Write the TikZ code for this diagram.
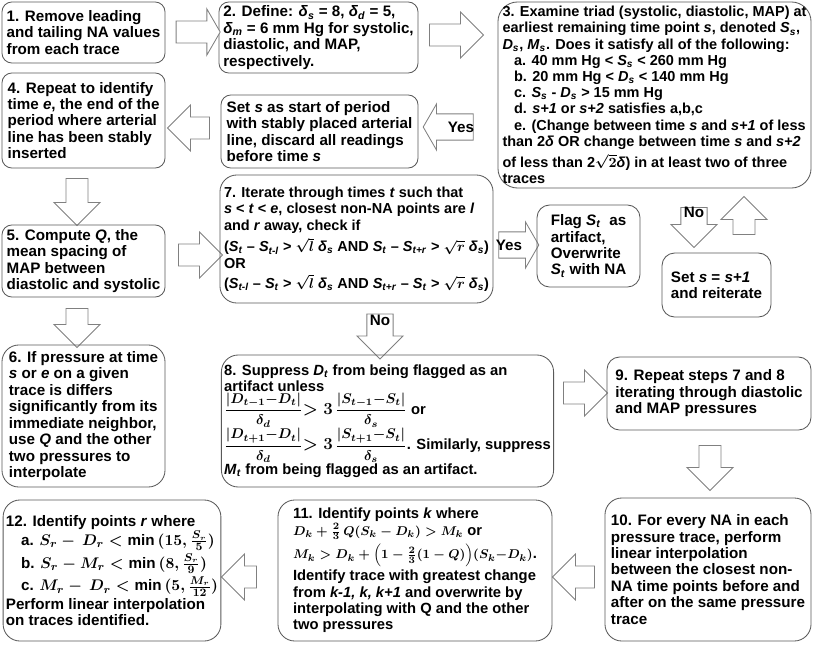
\documentclass[tikz,border=0pt]{standalone}
\usepackage{amsmath}
\usepackage{fontspec}
\setmainfont{Liberation Sans}
\usetikzlibrary{shapes.arrows}

\newcommand{\tvar}[2]{\textit{#1}\textsubscript{\textit{#2}}}
\newcommand{\subind}{\hspace*{0.8em}}
\newcommand{\pfrac}[2]{{\fontsize{9.8}{10}\selectfont$\dfrac{#1}{#2}$}}

\begin{document}
\begin{tikzpicture}[x=0.025cm, y=-0.025cm,
  stepbox/.style={draw=black!65, line width=0.6pt, rounded corners=7pt, align=left, inner sep=2pt,
    font=\fontsize{10.8}{11.7}\selectfont\bfseries\boldmath},
  barrow/.style={single arrow, draw=black!50, fill=white, line width=0.6pt, inner sep=2.5pt,
    text height=1.5ex, text depth=.4ex, single arrow head extend=0.3cm},
  lblarrow/.style={barrow, inner ysep=4pt, single arrow head extend=0.25cm},
  lbl/.style={font=\fontsize{10.8}{12}\selectfont\bfseries, inner sep=0pt},
]
\useasboundingbox (0,0) rectangle (813,644);

% === Row 1 ===
\node[stepbox, minimum width=4.075cm, minimum height=1.525cm] (s1) at (83.5,32.5)
  {1. Remove leading\\and tailing NA values\\from each trace};
\node[stepbox, minimum width=4.975cm, minimum height=1.775cm] (s2) at (318.5,37.5)
  {2. Define: \tvar{δ}{s} = 8, \tvar{δ}{d} = 5,\\\tvar{δ}{m} = 6 mm Hg for systolic,\\diastolic, and MAP,\\respectively.};
\node[stepbox, rounded corners=14pt, inner xsep=1pt, minimum width=7.825cm, minimum height=4.65cm,
  font=\fontsize{10.3}{11.5}\selectfont\bfseries\boldmath] (s3) at (654.5,95)
  {3. Examine triad (systolic, diastolic, MAP) at\\
   earliest remaining time point \textit{s}, denoted \tvar{S}{s},\\
   \tvar{D}{s}, \tvar{M}{s}. Does it satisfy all of the following:\\
   \subind a. 40 mm Hg < \tvar{S}{s} < 260 mm Hg\\
   \subind b. 20 mm Hg < \tvar{D}{s} < 140 mm Hg\\
   \subind c. \tvar{S}{s} - \tvar{D}{s} > 15 mm Hg\\
   \subind d. \textit{s+1} or \textit{s+2} satisfies a,b,c\\
   \subind e. (Change between time \textit{s} and \textit{s+1} of less\\
   than 2\textit{δ} OR change between time \textit{s} and \textit{s+2}\\[2.5pt]
   of less than 2$\sqrt{2}$\textit{δ}) in at least two of three\\
   traces};

\node[barrow, single arrow tip angle=120, minimum height=1.1cm] (a12) at (195,32) {};
\node[barrow, minimum height=1.35cm] (a23) at (451,35) {};

% === Row 2 ===
\node[stepbox, minimum width=4.075cm, minimum height=2.375cm] (s4) at (83.5,120.5)
  {4. Repeat to identify\\time \textit{e}, the end of the\\period where arterial\\line has been stably\\inserted};
\node[stepbox, minimum width=4.925cm, minimum height=1.825cm] (sset) at (319.5,131.5)
  {Set \textit{s} as start of period\\with stably placed arterial\\line, discard all readings\\before time \textit{s}};

\node[lblarrow, single arrow tip angle=120, rotate=180, minimum height=1.25cm] (ayes3) at (452,127) {};
\node[lbl] (lyes3) at (461,127) {Yes};
\node[barrow, rotate=180, minimum height=1.05cm] (aset4) at (194,128) {};

% === Row 3 ===
\node[barrow, rotate=-90, minimum height=1.175cm] (a45) at (77,196.5) {};
\node[stepbox, minimum width=4.075cm, minimum height=1.8cm] (s5) at (83.5,261)
  {5. Compute \textit{Q}, the\\mean spacing of\\MAP between\\diastolic and systolic};
\node[barrow, minimum height=1.1cm] (a57) at (195,255) {};
\node[stepbox, rounded corners=12pt, minimum width=6.825cm, minimum height=3.2cm,
  font=\fontsize{10.3}{11.7}\selectfont\bfseries\boldmath] (s7) at (356.5,239)
  {7. Iterate through times \textit{t} such that\\
   \textit{s} < \textit{t} < \textit{e}, closest non-NA points are \textit{l}\\
   and \textit{r} away, check if\\[2.5pt]
   (\tvar{S}{t} – \tvar{S}{t-l} > $\sqrt{l}$ \tvar{δ}{s} AND \tvar{S}{t} – \tvar{S}{t+r} > $\sqrt{r}$ \tvar{δ}{s})\\
   OR\\[2.5pt]
   (\tvar{S}{t-l} – \tvar{S}{t} > $\sqrt{l}$ \tvar{δ}{s} AND \tvar{S}{t+r} – \tvar{S}{t} > $\sqrt{r}$ \tvar{δ}{s})};

\node[lblarrow, single arrow tip angle=120, minimum height=1.0cm] (ayes7) at (515,245) {};
\node[lbl] (lyes7) at (509,245) {Yes};
\node[stepbox, rounded corners=9pt, minimum width=2.575cm, minimum height=2.05cm] (sflag) at (588.5,246)
  {Flag \tvar{S}{t}\ \ as\\artifact,\\Overwrite\\\tvar{S}{t} with NA};

\node[lblarrow, rotate=-90, minimum height=1.0cm] (ano3) at (694,221) {};
\node[lbl] (lno3) at (694,212) {No};
\node[barrow, rotate=90, minimum height=0.95cm] (aup) at (744,221) {};
\node[stepbox, rounded corners=9pt, minimum width=2.725cm, minimum height=1.6cm] (sre) at (716.5,285)
  {Set \textit{s} = \textit{s+1}\\and reiterate};

% === Row 4 ===
\node[barrow, rotate=-90, minimum height=0.975cm] (a56) at (77,322.5) {};
\node[stepbox, rounded corners=12pt, minimum width=4.075cm, minimum height=3.55cm] (s6) at (83.5,416)
  {6. If pressure at time\\\textit{s} or \textit{e} on a given\\trace is differs\\significantly from its\\immediate neighbor,\\use \textit{Q} and the other\\two pressures to\\interpolate};

\node[lblarrow, rotate=-90, minimum height=1.125cm] (ano7) at (380,330) {};
\node[lbl] (lno7) at (380,320) {No};
\node[stepbox, rounded corners=12pt, minimum width=8.225cm, minimum height=3.3cm,
  font=\fontsize{10.5}{11.7}\selectfont\bfseries\boldmath] (s8) at (387.5,421)
  {8. Suppress \tvar{D}{t} from being flagged as an\\
   artifact unless\\
   \pfrac{|D_{t-1}{-}D_t|}{\delta_d}{\large$>3$}\,\pfrac{|S_{t-1}{-}S_t|}{\delta_s} or\\
   \pfrac{|D_{t+1}{-}D_t|}{\delta_d}{\large$>3$}\,\pfrac{|S_{t+1}{-}S_t|}{\delta_s}. Similarly, suppress\\
   \tvar{M}{t} from being flagged as an artifact.};

\node[barrow, minimum height=1.1cm] (a89) at (580,393) {};
\node[stepbox, rounded corners=9pt, minimum width=5.1cm, minimum height=1.825cm] (s9) at (709,393.5)
  {9. Repeat steps 7 and 8\\iterating through diastolic\\and MAP pressures};
\node[barrow, rotate=-90, minimum height=1.125cm] (a910) at (710,462.5) {};

% === Row 5 ===
\node[stepbox, rounded corners=12pt, minimum width=5.15cm, minimum height=3.575cm] (s10) at (708,569.5)
  {10. For every NA in each\\pressure trace, perform\\linear interpolation\\between the closest non-\\NA time points before and\\after on the same pressure\\trace};
\node[barrow, rotate=180, minimum height=1.05cm] (a1011) at (579,577) {};
\node[stepbox, rounded corners=12pt, minimum width=6.85cm, minimum height=3.525cm,
  font=\fontsize{10.5}{11.7}\selectfont\bfseries\boldmath] (s11) at (415,570.5)
  {11. Identify points \textit{k} where\\
   {\fontsize{9.5}{11}\selectfont$D_k+\frac{2}{3}\,Q(S_k-D_k)>M_k$} or\\[2.5pt]
   {\fontsize{9.5}{11}\selectfont$M_k>D_k+\Bigl(1-\frac{2}{3}(1-Q)\Bigr)(S_k{-}D_k)$}.\\[1pt]
   Identify trace with greatest change\\
   from \textit{k-1, k, k+1} and overwrite by\\
   interpolating with Q and the other\\
   two pressures};
\node[barrow, rotate=180, minimum height=0.875cm] (a1112) at (244.5,577) {};
\node[stepbox, rounded corners=12pt, minimum width=5.4cm, minimum height=3.525cm] (s12) at (112,570.5)
  {12. Identify points \textit{r} where\\
   \hspace*{1em}a. $S_r-\,D_r<\min\,(15,\frac{S_r}{5})$\\[1pt]
   \hspace*{1em}b. $S_r-M_r<\min\,(8,\frac{S_r}{9})$\\[1pt]
   \hspace*{1em}c. $M_r-\,D_r<\min\,(5,\frac{M_r}{12})$\\
   Perform linear interpolation\\
   on traces identified.};

\end{tikzpicture}
\end{document}
